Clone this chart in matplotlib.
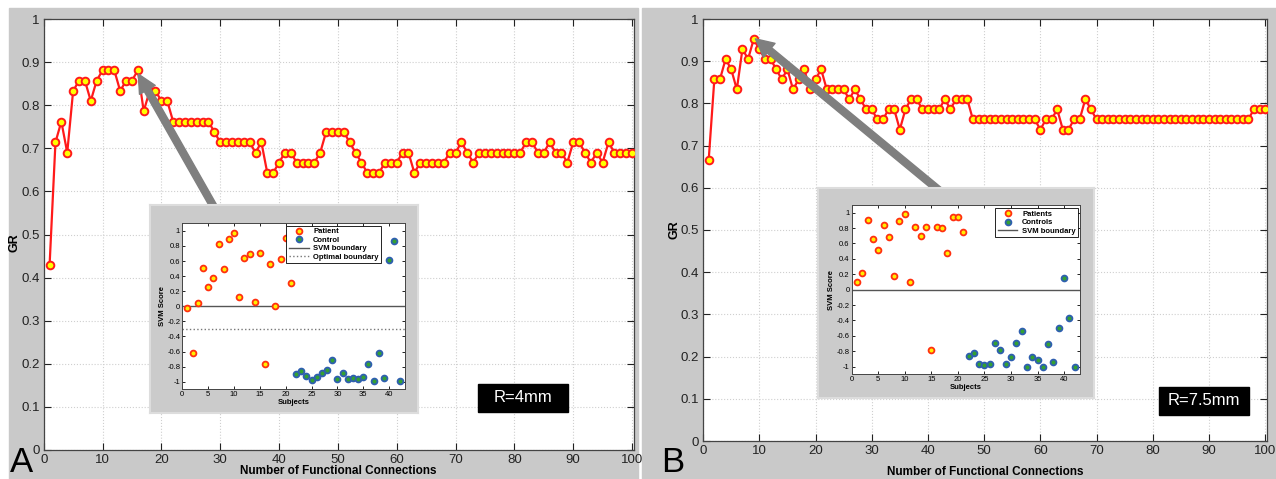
import matplotlib
matplotlib.use("Agg")
import matplotlib.pyplot as plt
from matplotlib.patches import Rectangle
import numpy as np

# GR vs number of functional connections (x = 1..100)
connections = np.arange(1, 101)

gr_4mm = [0.429, 0.714, 0.762, 0.690, 0.833, 0.857, 0.857, 0.810, 0.857, 0.881,
          0.881, 0.881, 0.833, 0.857, 0.857, 0.881, 0.786, 0.833, 0.833, 0.810,
          0.810, 0.762, 0.762, 0.762, 0.762, 0.762, 0.762, 0.762, 0.738, 0.714,
          0.714, 0.714, 0.714, 0.714, 0.714, 0.690, 0.714, 0.643, 0.643, 0.667,
          0.690, 0.690, 0.667, 0.667, 0.667, 0.667, 0.690, 0.738, 0.738, 0.738,
          0.738, 0.714, 0.690, 0.667, 0.643, 0.643, 0.643, 0.667, 0.667, 0.667,
          0.690, 0.690, 0.643, 0.667, 0.667, 0.667, 0.667, 0.667, 0.690, 0.690,
          0.714, 0.690, 0.667, 0.690, 0.690, 0.690, 0.690, 0.690, 0.690, 0.690,
          0.690, 0.714, 0.714, 0.690, 0.690, 0.714, 0.690, 0.690, 0.667, 0.714,
          0.714, 0.690, 0.667, 0.690, 0.667, 0.714, 0.690, 0.690, 0.690, 0.690]

gr_75mm = [0.667, 0.857, 0.857, 0.905, 0.881, 0.833, 0.929, 0.905, 0.952, 0.929,
           0.905, 0.905, 0.881, 0.857, 0.881, 0.833, 0.857, 0.881, 0.833, 0.857,
           0.881, 0.833, 0.833, 0.833, 0.833, 0.810, 0.833, 0.810, 0.786, 0.786,
           0.762, 0.762, 0.786, 0.786, 0.738, 0.786, 0.810, 0.810, 0.786, 0.786,
           0.786, 0.786, 0.810, 0.786, 0.810, 0.810, 0.810, 0.762, 0.762, 0.762,
           0.762, 0.762, 0.762, 0.762, 0.762, 0.762, 0.762, 0.762, 0.762, 0.738,
           0.762, 0.762, 0.786, 0.738, 0.738, 0.762, 0.762, 0.810, 0.786, 0.762,
           0.762, 0.762, 0.762, 0.762, 0.762, 0.762, 0.762, 0.762, 0.762, 0.762,
           0.762, 0.762, 0.762, 0.762, 0.762, 0.762, 0.762, 0.762, 0.762, 0.762,
           0.762, 0.762, 0.762, 0.762, 0.762, 0.762, 0.762, 0.786, 0.786, 0.786]

# SVM scores per subject (inset plots)
patients = np.arange(1, 22)
controls = np.arange(22, 43)

svm_pat_4mm = [-0.02, -0.62, 0.04, 0.51, 0.26, 0.38, 0.82, 0.50, 0.89, 0.97,
               0.12, 0.64, 0.69, 0.06, 0.71, -0.76, 0.56, 0.01, 0.63, 0.90, 0.31]
svm_ctl_4mm = [-0.90, -0.86, -0.92, -0.98, -0.94, -0.89, -0.84, -0.71, -0.96, -0.89,
               -0.96, -0.95, -0.97, -0.94, -0.76, -0.99, -0.62, -0.95, 0.61, 0.86, -0.99]
optimal_4mm = -0.30

svm_pat_75mm = [0.10, 0.22, 0.90, 0.66, 0.52, 0.84, 0.69, 0.18, 0.89, 0.98,
                0.10, 0.82, 0.70, 0.81, -0.78, 0.82, 0.80, 0.48, 0.94, 0.94, 0.75]
svm_ctl_75mm = [-0.86, -0.82, -0.97, -0.98, -0.97, -0.69, -0.78, -0.97, -0.88, -0.69,
                -0.54, -1.00, -0.88, -0.92, -1.00, -0.71, -0.94, -0.50, 0.15, -0.37, -1.00]

W, H = 1276, 479
GRAY = '#c9c9c9'
plt.rcParams['font.family'] = ['Liberation Sans', 'DejaVu Sans']

fig = plt.figure(figsize=(W / 100, H / 100), dpi=100)
fig.patch.set_facecolor('white')


def px_axes(x0, y0, x1, y1):
    return fig.add_axes([x0 / W, 1 - y1 / H, (x1 - x0) / W, (y1 - y0) / H])


# grey panel backgrounds (behind all axes)
fig.patches.append(Rectangle((9 / W, 0), (638 - 9) / W, (H - 8) / H,
                             transform=fig.transFigure, color=GRAY, zorder=-5))
fig.patches.append(Rectangle((642 / W, 0), (W - 642) / W, (H - 8) / H,
                             transform=fig.transFigure, color=GRAY, zorder=-5))


def main_panel(ax, y, tip, tail, label, label_rect, ylab_xy, xlab_xy):
    ax.set_facecolor('white')
    ax.plot(connections, y, color='#ff1a1a', lw=1.6, marker='o', ms=5.5,
            mfc='#ffff00', mec='#ff1a1a', mew=1.4, zorder=3)
    ax.set_xlim(0, 100.4)
    ax.set_ylim(0, 1)
    ax.set_xticks(np.arange(0, 101, 10))
    ax.set_yticks(np.arange(0, 1.01, 0.1))
    ax.set_yticklabels(['0', '0.1', '0.2', '0.3', '0.4', '0.5', '0.6', '0.7', '0.8', '0.9', '1'])
    ax.grid(True, color='#cfcfcf', ls=':', lw=0.8)
    ax.tick_params(direction='in', length=5, width=0.8, top=True, right=True,
                   labelsize=9.5, colors='#222222', pad=3)
    for s in ax.spines.values():
        s.set_color('#444444')
        s.set_linewidth(0.9)
    ax.set_ylabel('GR', fontsize=9, fontweight='bold')
    ax.yaxis.set_label_coords(*ylab_xy)
    ax.set_xlabel('Number of Functional Connections', fontsize=8.5, fontweight='bold')
    ax.xaxis.set_label_coords(*xlab_xy)
    ax.annotate('', xy=tip, xytext=tail,
                arrowprops=dict(arrowstyle='simple,head_length=1.3,head_width=1.3,tail_width=0.5',
                                color='#7f7f7f', mutation_scale=10, shrinkA=0, shrinkB=0),
                zorder=5)
    x0, y0, w, h = label_rect
    ax.add_patch(Rectangle((x0, y0), w, h, transform=ax.transAxes, fc='black',
                           ec='black', zorder=6, clip_on=False))
    ax.text(x0 + w / 2, y0 + h / 2, label, transform=ax.transAxes, color='white',
            fontsize=12, ha='center', va='center', zorder=7)


axA = px_axes(43.7, 19, 634.4, 450)
main_panel(axA, gr_4mm, (16.1, 0.872), (29.5, 0.55), 'R=4mm',
           (0.7352, 0.0882, 0.1524, 0.065), (-0.039, 0.48), (0.498, -0.035))

axB = px_axes(703.1, 19, 1267.4, 441)
main_panel(axB, gr_75mm, (9.3, 0.953), (42.8, 0.585), 'R=7.5mm',
           (0.8079, 0.0616, 0.1595, 0.0664), (-0.040, 0.50), (0.4996, -0.059))

fig.text(10 / W, 1 - 479 / H, 'A', fontsize=25, va='bottom', ha='left')
fig.text(661 / W, 1 - 479 / H, 'B', fontsize=25, va='bottom', ha='left')


def inset(box, axbox, pat, ctl, optimal, names, leg_anchor):
    bx = px_axes(*box)
    bx.set_facecolor('#cbcbcb')
    bx.set_xticks([])
    bx.set_yticks([])
    for s in bx.spines.values():
        s.set_color('#dddddd')
        s.set_linewidth(1.5)
    ax = px_axes(*axbox)
    ax.plot(patients, pat, ls='none', marker='o', ms=4.2, mfc='#ffee00', mec='#ff3010',
            mew=1.3, label=names[0], zorder=3)
    ax.plot(controls, ctl, ls='none', marker='o', ms=4.2, mfc='#33a033', mec='#2f5fb0',
            mew=1.3, label=names[1], zorder=3)
    ax.axhline(0, color='#555555', lw=1.0, label='SVM boundary')
    if optimal is not None:
        ax.axhline(optimal, color='#777777', lw=1.0, ls=':', label='Optimal boundary')
    ax.set_xlim(0, 43)
    ax.set_ylim(-1.1, 1.1)
    ax.set_xticks(np.arange(0, 41, 5))
    yt = np.round(np.arange(-1, 1.01, 0.2), 1) + 0.0
    ax.set_yticks(yt)
    ax.set_yticklabels(['%g' % (v if abs(v) > 1e-9 else 0) for v in yt])
    ax.tick_params(direction='in', length=2.5, width=0.6, top=True, right=True,
                   labelsize=5.5, pad=1.5)
    for s in ax.spines.values():
        s.set_color('#444444')
        s.set_linewidth(0.7)
    ax.set_xlabel('Subjects', fontsize=5.5, fontweight='bold', labelpad=0.5)
    ax.set_ylabel('SVM Score', fontsize=5.5, fontweight='bold', labelpad=1)
    leg = ax.legend(loc='upper right', bbox_to_anchor=leg_anchor, fancybox=False,
                    edgecolor='black', framealpha=1, borderpad=0.3, labelspacing=0.15,
                    handlelength=2.6, handletextpad=0.6, borderaxespad=0,
                    prop=dict(size=5.5, weight='bold'))
    leg.get_frame().set_linewidth(0.6)


inset((150, 205, 418, 413), (182.3, 223.3, 404.7, 389.3),
      svm_pat_4mm, svm_ctl_4mm, optimal_4mm, ('Patient', 'Control'), (0.893, 0.986))
inset((818, 188, 1094, 398), (851.7, 205, 1080, 374.3),
      svm_pat_75mm, svm_ctl_75mm, None, ('Patients', 'Controls'), (0.991, 0.982))

fig.savefig('out.png', dpi=100, facecolor='white')
